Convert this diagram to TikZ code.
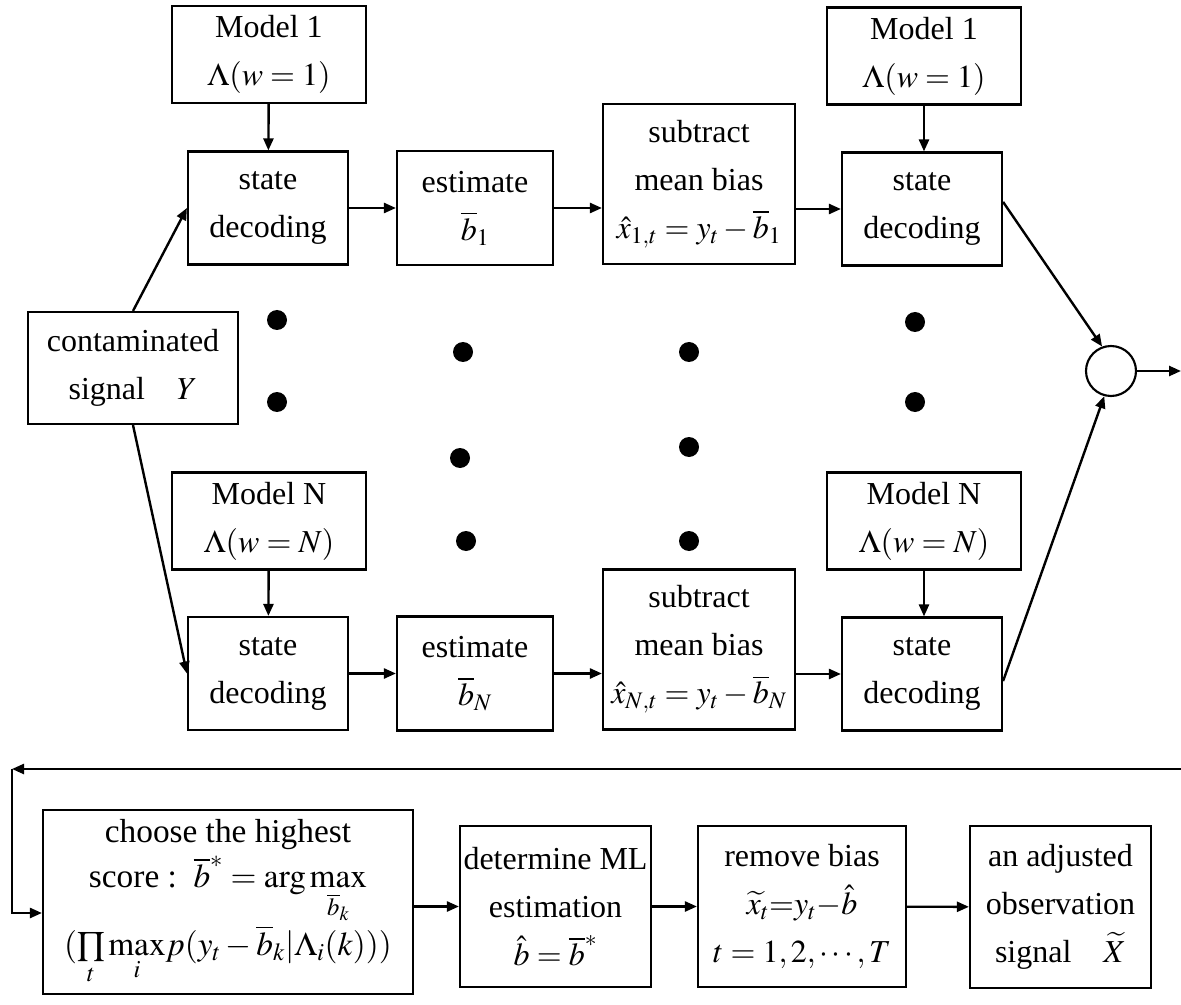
\documentclass[tikz,border=0pt]{standalone}
\usepackage{mathptmx}
\usepackage{fontspec}
\setmainfont{Liberation Serif}
\usetikzlibrary{arrows.meta}

\tikzset{every picture/.style={line width=1.8pt}}
\tikzset{
  blk/.style={draw, line width=1.6pt, align=center, inner sep=0.75pt, font=\fontsize{24}{36}\selectfont},
  mdl/.style={blk, minimum width=145.5pt, minimum height=72.75pt},
  sdec/.style={blk, minimum width=120pt, minimum height=84.75pt},
  est/.style={blk, minimum width=117pt, minimum height=85.5pt},
  sub/.style={blk, minimum width=144pt, minimum height=120pt},
  arr/.style={-{Triangle[length=9pt,width=7.5pt]}}
}

\begin{document}
\begin{tikzpicture}[x=0.75pt,y=0.75pt,yscale=-1.0,xscale=1.0]
    \useasboundingbox (0,0) rectangle (1181,1005);

    % Text Node
    \node[mdl] (m1L) at (269,54.5) {Model 1\\$\Lambda(w=1)$};
    % Text Node
    \node[sdec] (sdTL) at (268,208) {state\\decoding};
    % Text Node
    \node[est] (est1) at (475,208) {estimate\\$\overline{b}_{1}$};
    % Text Node
    \node[sub] (sub1) at (699,184) {subtract\\mean bias\\$\hat{x}_{1,t}=y_t-\overline{b}_1$};
    % Text Node
    \node[sdec] (sdTR) at (922,209) {state\\decoding};
    % Text Node
    \node[mdl] (m1R) at (924,56) {Model 1\\$\Lambda(w=1)$};
    % Text Node
    \node[blk, minimum width=157.5pt, minimum height=84pt] (cont) at (133,368) {contaminated\\signal\quad$Y$};
    % Text Node
    \node[mdl] (mNL) at (269,521) {Model N\\$\Lambda(w=N)$};
    % Text Node
    \node[sdec] (sdBL) at (268,673.5) {state\\decoding};
    % Text Node
    \node[est] (estN) at (475,673.5) {estimate\\$\overline{b}_{N}$};
    % Text Node
    \node[sub] (subN) at (699,649.5) {subtract\\mean bias\\$\hat{x}_{N,t}=y_t-\overline{b}_N$};
    % Text Node
    \node[sdec] (sdBR) at (922,674) {state\\decoding};
    % Text Node
    \node[mdl] (mNR) at (924,521) {Model N\\$\Lambda(w=N)$};
    % Sum
    \node[draw, circle, line width=1.6pt, minimum size=37.5pt, inner sep=0pt] (sum) at (1111,371) {};
    \coordinate (out) at (1181,371);

    % Text Node
    \node[blk, minimum width=277.5pt, minimum height=138pt, font=\fontsize{25}{34}\selectfont] (choose) at (228,902) {choose the highest\\score :\ \ $\overline{b}^{*}=\arg\max\limits_{\overline{b}_k}$\\$(\prod\limits_{t}\max\limits_{i}\!p(y_t-\overline{b}_k|\Lambda_i(k)))$};
    % Text Node
    \node[blk, minimum width=143.25pt, minimum height=120.75pt] (det) at (555.5,906.5) {determine ML\\estimation\\$\hat{b}=\overline{b}^{*}$};
    % Text Node
    \node[blk, minimum width=156pt, minimum height=120.75pt] (rem) at (802,906.5) {remove bias\\$\widetilde{x}_t{=}y_t{-}\hat{b}$\\$t=1,2,\cdots,T$};
    % Text Node
    \node[blk, minimum width=135.75pt, minimum height=121.5pt] (adj) at (1060.5,907) {an adjusted\\observation\\signal\quad$\widetilde{X}$};
    \coordinate (fbR) at (1181,769);
    \coordinate (fbL) at (12,769);
    \coordinate (fbC) at (12,913);

    % Dots
    \fill (277,320) circle[radius=7.5pt];
    \fill (277,402) circle[radius=7.5pt];
    \fill (463,352) circle[radius=7.5pt];
    \fill (460,458) circle[radius=7.5pt];
    \fill (466,541) circle[radius=7.5pt];
    \fill (689,352) circle[radius=7.5pt];
    \fill (689,447) circle[radius=7.5pt];
    \fill (689,541) circle[radius=7.5pt];
    \fill (915,322) circle[radius=7.5pt];
    \fill (915,402) circle[radius=7.5pt];

    % Connection
    \draw[arr] (m1L) -- (sdTL);
    \draw[arr] (m1R) -- (m1R |- sdTR.north);
    \draw[arr] (mNL) -- (sdBL);
    \draw[arr] (mNR) -- (mNR |- sdBR.north);
    % Connection
    \draw[arr] (cont.north) -- (sdTL.west);
    \draw[arr] (cont.south) -- (sdBL.west);
    % Connection
    \draw[arr] (sdTL) -- (est1);
    \draw[arr] (est1.east) -- (est1.east -| sub1.west);
    \draw[arr] (sdTR.west -| sub1.east) -- (sdTR.west);
    \draw[arr] (sdBL) -- (estN);
    \draw[arr] (estN.east) -- (estN.east -| subN.west);
    \draw[arr] (sdBR.west -| subN.east) -- (sdBR.west);
    % Connection
    \draw[arr] (sdTR.5) -- (sum.110);
    \draw[arr] (sdBR.-5) -- (sum.-105);
    \draw[arr] (sum) -- (out);
    % Connection
    \draw[arr] (fbR) -- (fbL);
    \draw[arr] (fbL) -- (fbC) -- (fbC -| choose.west);
    \draw[arr] (choose.east |- det.west) -- (det.west);
    \draw[arr] (det) -- (rem);
    \draw[arr] (rem) -- (adj);
\end{tikzpicture}
\end{document}
